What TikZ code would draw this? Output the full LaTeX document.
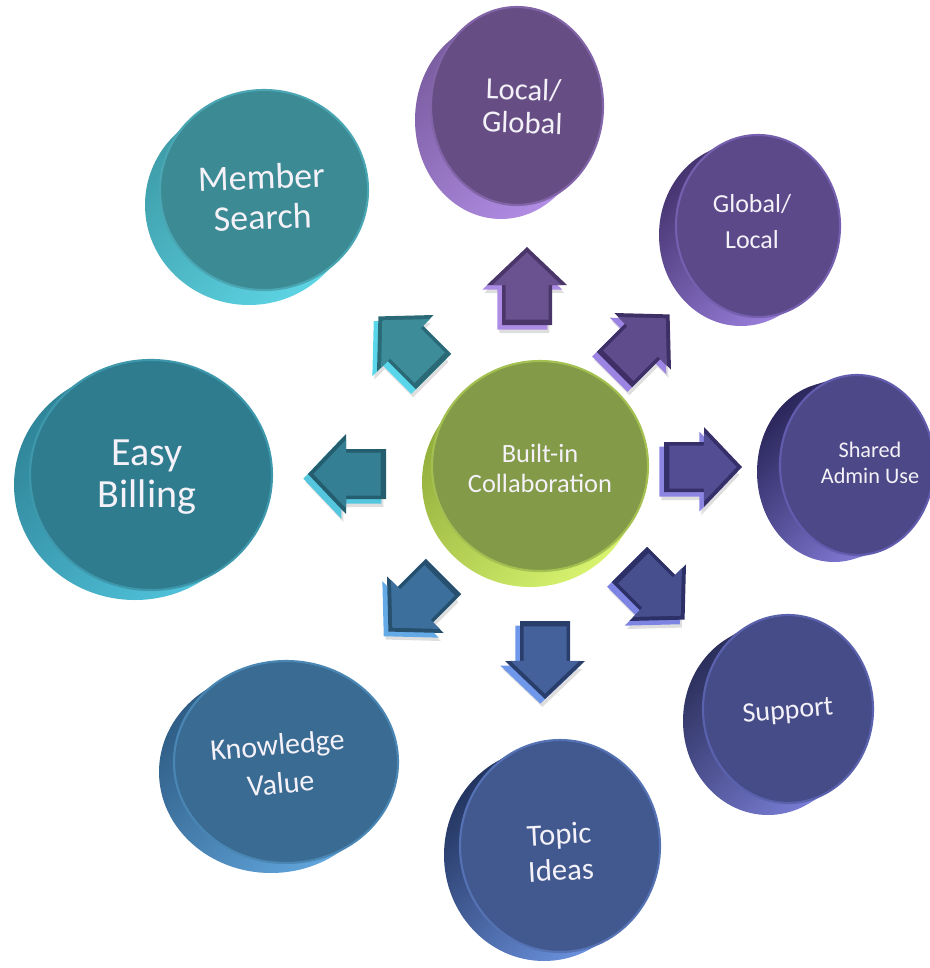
\documentclass[tikz,border=0pt]{standalone}
\usepackage{fontspec}
\setmainfont{Carlito}
\usetikzlibrary{shapes.geometric,calc}
% disc colours: F face, R rim light, D rim dark, B bevel
\definecolor{msF}{HTML}{3B8A94}\definecolor{msR}{HTML}{5ED6E6}\definecolor{msD}{HTML}{3E9CA8}\definecolor{msB}{HTML}{4AA6B2}
\definecolor{ebF}{HTML}{307C8F}\definecolor{ebR}{HTML}{52C6DE}\definecolor{ebD}{HTML}{2F8498}\definecolor{ebB}{HTML}{3E98AC}
\definecolor{kvF}{HTML}{3A6B93}\definecolor{kvR}{HTML}{64AAE2}\definecolor{kvD}{HTML}{2E5C84}\definecolor{kvB}{HTML}{4A86B4}
\definecolor{tiF}{HTML}{42598F}\definecolor{tiR}{HTML}{7098E6}\definecolor{tiD}{HTML}{22335E}\definecolor{tiB}{HTML}{5572B4}
\definecolor{suF}{HTML}{464C88}\definecolor{suR}{HTML}{7E82DC}\definecolor{suD}{HTML}{292D58}\definecolor{suB}{HTML}{5A62AE}
\definecolor{saF}{HTML}{4D4887}\definecolor{saR}{HTML}{8A82E2}\definecolor{saD}{HTML}{2A265A}\definecolor{saB}{HTML}{625CAE}
\definecolor{glF}{HTML}{5B4989}\definecolor{glR}{HTML}{A084E4}\definecolor{glD}{HTML}{43336E}\definecolor{glB}{HTML}{7460AE}
\definecolor{lgF}{HTML}{664E84}\definecolor{lgR}{HTML}{B490E8}\definecolor{lgD}{HTML}{7A5CA0}\definecolor{lgB}{HTML}{8264A8}
\definecolor{cbF}{HTML}{839A49}\definecolor{cbR}{HTML}{D8F470}\definecolor{cbD}{HTML}{8EAA38}\definecolor{cbB}{HTML}{A4C050}
% arrow colours
\definecolor{amsF}{HTML}{3C8C9A}\definecolor{amsR}{HTML}{5AD6EA}\definecolor{amsD}{HTML}{2A6A76}
\definecolor{alF}{HTML}{6A5290}\definecolor{alR}{HTML}{AC8CE4}\definecolor{alD}{HTML}{4A3668}
\definecolor{agF}{HTML}{5E4C8C}\definecolor{agR}{HTML}{9C84E2}\definecolor{agD}{HTML}{3E3066}
\definecolor{asF}{HTML}{534D93}\definecolor{asR}{HTML}{8C86E2}\definecolor{asD}{HTML}{36306A}
\definecolor{auF}{HTML}{484F8F}\definecolor{auR}{HTML}{7E84E2}\definecolor{auD}{HTML}{2C3066}
\definecolor{atF}{HTML}{44619B}\definecolor{atR}{HTML}{7098EA}\definecolor{atD}{HTML}{2A3E6C}
\definecolor{akF}{HTML}{3D6F9D}\definecolor{akR}{HTML}{64AAE6}\definecolor{akD}{HTML}{27506E}
\definecolor{aeF}{HTML}{357F95}\definecolor{aeR}{HTML}{54C6DE}\definecolor{aeD}{HTML}{245E6E}
\definecolor{txt}{HTML}{F4F2F8}

\newcommand\mydisc[8]{%
  \shade[top color=#1D, bottom color=#1R, shading angle=45]
    \foreach \k in {0,...,12}{ (#2-\k*#6/12, #3+\k*#7/12) ellipse [x radius=#4*0.75pt, y radius=#5*0.75pt] };
  \node[ellipse, inner sep=0pt, minimum width=#4*1.5pt, minimum height=#5*1.5pt,
        fill=#1F, draw=#1B, line width=1.6pt] (#8) at (#2,#3) {};
}
\newcommand\arrowpath{(-39,-25) -- (1,-25) -- (1,-40) -- (39,0) -- (1,40) -- (1,25) -- (-39,25) -- cycle}
\newcommand\blockarrow[3]{%
  \begin{scope}[shift={(#1)}, xshift=-2pt, yshift=-6pt, rotate=#2]
    \fill[black, opacity=0.13] \arrowpath;
  \end{scope}
  \begin{scope}[shift={(#1)}, xshift=-3.5pt, yshift=-3.5pt, rotate=#2]
    \fill[#3R] \arrowpath;
  \end{scope}
  \begin{scope}[shift={(#1)}, rotate=#2]
    \fill[#3D] \arrowpath;
    \fill[#3F, scale=0.86] \arrowpath;
  \end{scope}
}

\begin{document}
\begin{tikzpicture}[x=0.75pt, y=-0.75pt,
  lbl/.style={text=txt, align=center, inner sep=0pt}]
\useasboundingbox (0,0) rectangle (930,968);

% outer discs
\mydisc{ms}{264}{190}{104}{100}{15}{15}{ms}
\mydisc{lg}{517}{106}{86}{99}{16}{14}{lg}
\mydisc{gl}{758}{226}{82}{91}{17}{9}{gl}
\mydisc{sa}{857}{465}{77}{90}{23}{7}{sa}
\mydisc{su}{788}{709}{85}{94}{20}{12}{su}
\mydisc{ti}{560}{846}{100}{106}{16}{9}{ti}
\mydisc{kv}{286}{762}{112}{101}{15}{10}{kv}
\mydisc{eb}{151}{475}{121}{115}{16}{10}{eb}
% centre disc
\mydisc{cb}{540}{466}{108}{105}{10}{16}{ctr}

% arrow anchors
\coordinate (aMS) at (406,344);
\coordinate (aLG) at (527,286);
\coordinate (aGL) at (642,342);
\coordinate (aSA) at (703,467);
\coordinate (aSU) at (657,592);
\coordinate (aTI) at (545,660);
\coordinate (aKV) at (416,604);
\coordinate (aEB) at (347,474);

\blockarrow{aMS}{135}{ams}
\blockarrow{aLG}{90}{al}
\blockarrow{aGL}{45}{ag}
\blockarrow{aSA}{0}{as}
\blockarrow{aSU}{-45}{au}
\blockarrow{aTI}{-90}{at}
\blockarrow{aKV}{-135}{ak}
\blockarrow{aEB}{180}{ae}

% labels
\node[lbl, font=\fontsize{27}{30}\selectfont, rotate=2] (msT) at (262,197) {Member\\Search};
\node[lbl, font=\fontsize{23}{25}\selectfont, rotate=-2] (lgT) at (523,106) {Local/\\Global};
\node[lbl, font=\fontsize{19.5}{27}\selectfont] (glT) at (752,222) {Global/\\Local};
\node[lbl, font=\fontsize{16.7}{20}\selectfont] (saT) at (870,463) {Shared\\Admin Use};
\node[lbl, font=\fontsize{21}{24}\selectfont, rotate=5] (suT) at (788,712) {Support};
\node[lbl, font=\fontsize{23}{27}\selectfont, rotate=3] (tiT) at (560,852) {Topic\\Ideas};
\node[lbl, font=\fontsize{22.5}{29}\selectfont, rotate=5] (kvT) at (279,764) {Knowledge\\Value};
\node[lbl, font=\fontsize{30}{31}\selectfont] (ebT) at (147,477) {Easy\\Billing};
\node[lbl, font=\fontsize{19.8}{22.5}\selectfont] (ctrT) at (540,468) {Built-in\\Collaboration};
\end{tikzpicture}
\end{document}
